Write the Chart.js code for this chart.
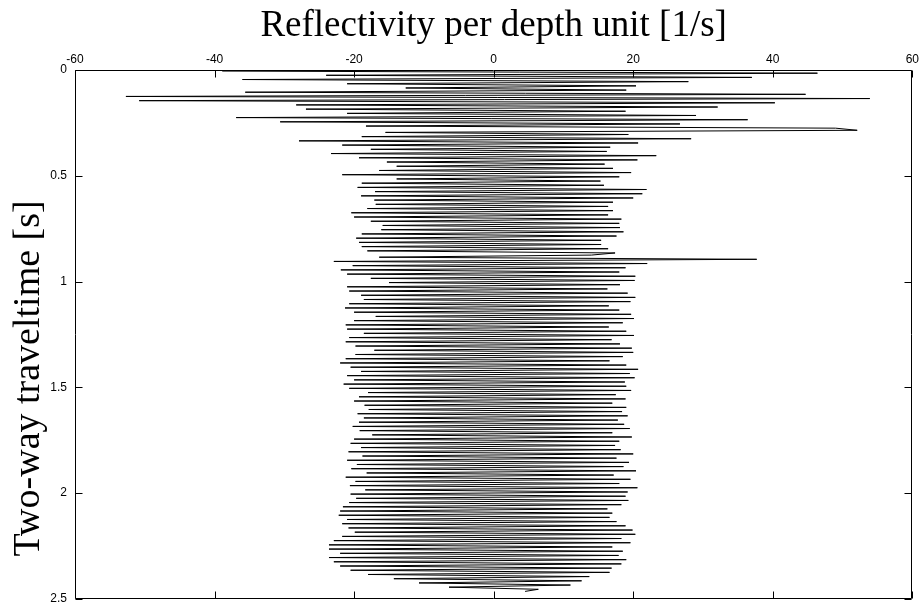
<!DOCTYPE html>
<html><head><meta charset="utf-8">
<script src="https://cdn.jsdelivr.net/npm/chart.js@4.4.1/dist/chart.umd.min.js"></script>
<style>html,body{margin:0;padding:0;background:#fff;overflow:hidden}#wrap{width:922px;height:614px}</style>
</head><body><div id="wrap"><canvas id="c" width="922" height="614"></canvas></div>
<script>
// Reflectivity per depth unit [1/s], one sample every 10 ms of two-way traveltime
const firstTime = 0.005;
const sampleInterval = 0.01;
const refl_000_025 = [-38.9, 46.4, -24, 37, -36, 27.9, -21, 20.4, -12.6, 19, -35.6, 44.7, -52.7, 53.9, -50.8, 40.3, -28.3, 32.1, -26.9, 18.9, -21, 29, -36.9, 36.4, -30.6];
const refl_025_050 = [26.7, -18.3, 49, 52.1, -15.5, 19.3, -18.9, 28.3, -27.9, 20.7, -21.7, 16.7, -17.6, 16.2, -23.3, 23.3, -19.3, 20.6, -15.3, 15.9, -13.9, 17.1, -16.4, 19.7, -21.7];
const refl_050_075 = [18, -13.9, 15.3, -18.9, 15.8, -19.5, 21.9, -17, 21.3, -19, 20, -17.1, 17.1, -16.9, 16.4, -18.1, 17.1, -20.4, 16.4, -20, 18.3, -17.6, 18, -15.9, 18.1];
const refl_075_100 = [-16.1, 18.6, -18.9, 17.6, -19.7, 15.4, -19.3, 15.4, -18.9, 16.4, -18.1, 17.4, 14, -16.4, 37.7, -22.9, 22, -20.2, 18.9, -21.9, 18, -21, 20.3, -17.6, 20.2];
const refl_100_125 = [-15, 18.1, -21, 16.3, -20.7, 19.2, -19, 20.3, -18.6, 19.6, -20.7, 16.5, -21.3, 18, -20, 19.7, -16.9, 20.1, -20, 18.5, -21.2, 16.5, -21, 19, -18.6];
const refl_125_150 = [20.1, -20.7, 16.9, -21.2, 18.1, -19.8, 19.8, -17.1, 20, -19.8, 18.5, -21.2, 16.6, -22, 19, -20.5, 20.7, -19, 19.5, -21, 20.2, -20, 18.8, -21.5, 19];
const refl_150_175 = [-20.7, 19.7, -18, 17.5, -19.3, 18.9, -20, 17, -18.5, 19, -17.9, 18.4, -19.5, 19.2, -18.6, 17.8, -19.3, 18.7, -20.2, 19.5, -19.2, 17, -17.4, 19.8, -20];
const refl_175_200 = [18, -20.5, 17.4, -19, 18.2, -20.8, 20, -18.8, 17.6, -21, 19.4, -19.6, 18.6, -20.4, 20.4, -18.2, 17.2, -21.2, 19.6, -19.8, 18, -20.6, 20.6, -18.4, 19.2];
const refl_200_225 = [-20.5, 18.9, -19.7, 19.3, -20.7, 18.3, -21.6, 16.3, -22, 17, -22.2, 16.6, -21, 17.6, -21.7, 18.9, -20.8, 19.9, -19.9, 20.3, -21.7, 18.3, -22.9, 19.6, -23.6];
const refl_225_247 = [17, -23.6, 18.5, -22, 17.9, -23.6, 19, -22.9, 18.3, -22, 16.9, -20.5, 16.6, -18, 13.7, -14.3, 12.6, -10.7, 11, -6.4, 6.4, 4.5];

const xTicks = [-60, -40, -20, 0, 20, 40, 60];
const yTicks = [0, 0.5, 1, 1.5, 2, 2.5];
const xTitle = 'Reflectivity per depth unit [1/s]';
const yTitle = 'Two-way traveltime [s]';

const reflectivity = [].concat(refl_000_025, refl_025_050, refl_050_075, refl_075_100, refl_100_125,
  refl_125_150, refl_150_175, refl_175_200, refl_200_225, refl_225_247);
const points = reflectivity.map((v, i) => ({ x: v, y: firstTime + i * sampleInterval }));

const frame = {
  id: 'frame',
  afterDraw(chart) {
    const { ctx, chartArea: a, scales: { x, y } } = chart;
    const L = Math.round(a.left) + 0.5, R = Math.round(a.right) - 0.5;
    const T = Math.round(a.top) + 0.5, B = Math.round(a.bottom) - 0.5;
    const tl = 7;
    ctx.save();
    ctx.strokeStyle = '#000';
    ctx.lineWidth = 1;
    ctx.beginPath();
    ctx.rect(L, T, R - L, B - T);
    x.ticks.forEach(t => {
      const px = Math.round(x.getPixelForValue(t.value)) + 0.5;
      ctx.moveTo(px, T); ctx.lineTo(px, T + tl);
      ctx.moveTo(px, B); ctx.lineTo(px, B - tl);
    });
    y.ticks.forEach(t => {
      const py = Math.round(y.getPixelForValue(t.value)) + 0.5;
      ctx.moveTo(L, py); ctx.lineTo(L + tl, py);
      ctx.moveTo(R, py); ctx.lineTo(R - tl, py);
    });
    ctx.stroke();
    // vertical axis title
    ctx.translate(a.left - 46, (a.top + a.bottom) / 2 + 44);
    ctx.rotate(-Math.PI / 2);
    ctx.fillStyle = '#000';
    ctx.font = '38px "Liberation Serif"';
    ctx.textAlign = 'center';
    ctx.textBaseline = 'middle';
    ctx.fillText(yTitle, 0, 0);
    ctx.restore();
  }
};

const fmt = v => String(+v);

new Chart(document.getElementById('c').getContext('2d'), {
  type: 'scatter',
  data: { datasets: [{ data: points, showLine: true, borderColor: '#000', borderWidth: 1,
    pointRadius: 0, pointHoverRadius: 0, tension: 0, fill: false }] },
  options: {
    responsive: false, animation: false, devicePixelRatio: 1,
    layout: { padding: { top: 0, left: 0, right: 6, bottom: 8 } },
    plugins: { legend: { display: false }, tooltip: { enabled: false } },
    scales: {
      x: {
        type: 'linear', position: 'top', min: xTicks[0], max: xTicks[xTicks.length - 1],
        afterBuildTicks(s) { s.ticks = xTicks.map(v => ({ value: v })); },
        ticks: { color: '#000', font: { family: 'Liberation Sans', size: 12 }, padding: 3, maxRotation: 0, autoSkip: false, callback: fmt },
        grid: { display: false, drawTicks: false, tickLength: 0 },
        border: { display: false },
        title: { display: true, text: xTitle, color: '#000', font: { family: 'Liberation Serif', size: 37 }, padding: { top: 4, bottom: 0 } },
        afterFit(s) { s.height = 70; }
      },
      y: {
        type: 'linear', reverse: true, min: yTicks[0], max: yTicks[yTicks.length - 1],
        afterBuildTicks(s) { s.ticks = yTicks.map(v => ({ value: v })); },
        ticks: { color: '#000', font: { family: 'Liberation Sans', size: 12 }, padding: 8, autoSkip: false, callback: fmt },
        grid: { display: false, drawTicks: false, tickLength: 0 },
        border: { display: false },
        afterFit(s) { s.width = 75; }
      }
    }
  },
  plugins: [frame]
});
</script></body></html>
